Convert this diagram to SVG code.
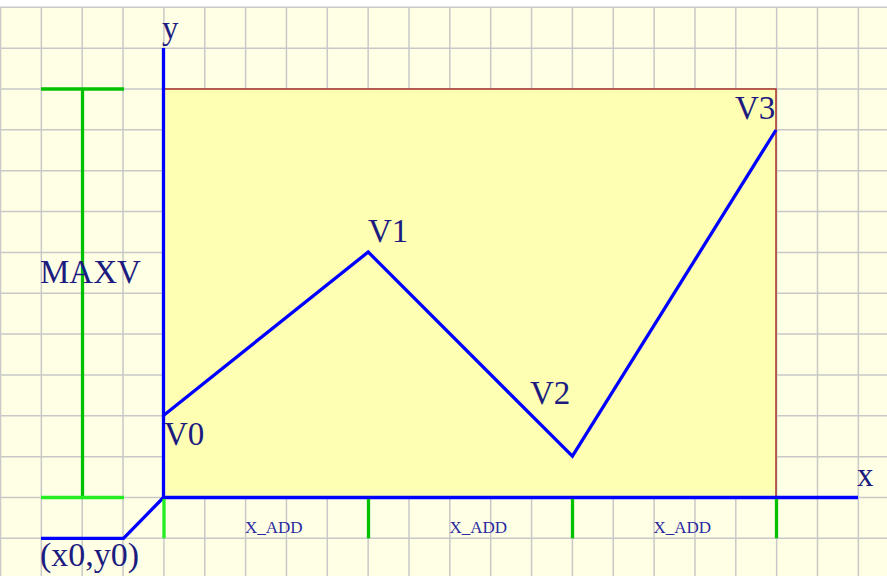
<svg xmlns="http://www.w3.org/2000/svg" width="887" height="576" viewBox="0 0 887 576">
<style>
.grid line{stroke:#c8c8c8;stroke-width:1.5}
.lbl{font-family:"Liberation Serif","Times New Roman",serif;fill:#1c1c80;font-size:33px}
.sm{font-family:"Liberation Serif","Times New Roman",serif;fill:#2a2aa0;font-size:17px}
.blue{stroke:#0000ff;stroke-width:3.3;fill:none;stroke-linejoin:miter}
.g1{stroke:#00c000;stroke-width:3.3}
.g2{stroke:#22ee22;stroke-width:3.3}
</style>
<rect x="0" y="0" width="887" height="576" fill="#ffffe6"/>
<rect x="0" y="0" width="887" height="7" fill="#ffffff"/>
<g class="grid" id="grid">
<line x1="0.5" y1="7.3" x2="0.5" y2="576"/>
<line x1="41.35" y1="7.3" x2="41.35" y2="576"/>
<line x1="82.2" y1="7.3" x2="82.2" y2="576"/>
<line x1="123.05" y1="7.3" x2="123.05" y2="576"/>
<line x1="163.9" y1="7.3" x2="163.9" y2="576"/>
<line x1="204.75" y1="7.3" x2="204.75" y2="576"/>
<line x1="245.6" y1="7.3" x2="245.6" y2="576"/>
<line x1="286.45" y1="7.3" x2="286.45" y2="576"/>
<line x1="327.3" y1="7.3" x2="327.3" y2="576"/>
<line x1="368.15" y1="7.3" x2="368.15" y2="576"/>
<line x1="409" y1="7.3" x2="409" y2="576"/>
<line x1="449.85" y1="7.3" x2="449.85" y2="576"/>
<line x1="490.7" y1="7.3" x2="490.7" y2="576"/>
<line x1="531.55" y1="7.3" x2="531.55" y2="576"/>
<line x1="572.4" y1="7.3" x2="572.4" y2="576"/>
<line x1="613.25" y1="7.3" x2="613.25" y2="576"/>
<line x1="654.1" y1="7.3" x2="654.1" y2="576"/>
<line x1="694.95" y1="7.3" x2="694.95" y2="576"/>
<line x1="735.8" y1="7.3" x2="735.8" y2="576"/>
<line x1="776.65" y1="7.3" x2="776.65" y2="576"/>
<line x1="817.5" y1="7.3" x2="817.5" y2="576"/>
<line x1="858.35" y1="7.3" x2="858.35" y2="576"/>
<line x1="0" y1="7.3" x2="887" y2="7.3"/>
<line x1="0" y1="48.15" x2="887" y2="48.15"/>
<line x1="0" y1="89" x2="887" y2="89"/>
<line x1="0" y1="129.85" x2="887" y2="129.85"/>
<line x1="0" y1="170.7" x2="887" y2="170.7"/>
<line x1="0" y1="211.55" x2="887" y2="211.55"/>
<line x1="0" y1="252.4" x2="887" y2="252.4"/>
<line x1="0" y1="293.25" x2="887" y2="293.25"/>
<line x1="0" y1="334.1" x2="887" y2="334.1"/>
<line x1="0" y1="374.95" x2="887" y2="374.95"/>
<line x1="0" y1="415.8" x2="887" y2="415.8"/>
<line x1="0" y1="456.65" x2="887" y2="456.65"/>
<line x1="0" y1="497.5" x2="887" y2="497.5"/>
<line x1="0" y1="538.35" x2="887" y2="538.35"/>
</g>
<g id="area">
<rect x="163.5" y="89" width="612.5" height="408.5" fill="#ffffb4" stroke="#a8302a" stroke-width="1.5"/>
</g>
<g id="connectors">
<polyline class="blue" points="163.5,415.5 368.2,252 572.4,456.2 776,130"/>
<line class="blue" x1="163.5" y1="48" x2="163.5" y2="497.5"/>
<line class="blue" x1="163.5" y1="497.5" x2="858" y2="497.5"/>
<polyline class="blue" points="163.5,497.5 123.5,538.3 41,538.3"/>
<line class="g1" x1="41" y1="89" x2="124" y2="89"/>
<line class="g1" x1="82.5" y1="89" x2="82.5" y2="497.5"/>
<line class="g2" x1="41" y1="497.5" x2="124" y2="497.5"/>
<line class="g2" x1="164" y1="499" x2="164" y2="538.3"/>
<line class="g1" x1="368.5" y1="499" x2="368.5" y2="538.3"/>
<line class="g1" x1="572.5" y1="499" x2="572.5" y2="538.3"/>
<line class="g1" x1="776.5" y1="499" x2="776.5" y2="538.3"/>
</g>
<g id="axis-y"><text class="lbl" x="162" y="39">y</text></g>
<g id="axis-x"><text class="lbl" x="857" y="486">x</text></g>
<g id="V0"><text class="lbl" x="164" y="445">V0</text></g>
<g id="V1"><text class="lbl" x="368" y="242">V1</text></g>
<g id="V2"><text class="lbl" x="530" y="404">V2</text></g>
<g id="V3"><text class="lbl" x="735" y="119">V3</text></g>
<g id="MAXV"><text class="lbl" x="40" y="283">MAXV</text></g>
<g id="origin"><text class="lbl" x="40" y="566" style="font-size:34px">(x0,y0)</text></g>
<g id="xadd1"><text class="sm" x="245" y="533">X_ADD</text></g>
<g id="xadd2"><text class="sm" x="449.5" y="533">X_ADD</text></g>
<g id="xadd3"><text class="sm" x="653.5" y="533">X_ADD</text></g>
</svg>
